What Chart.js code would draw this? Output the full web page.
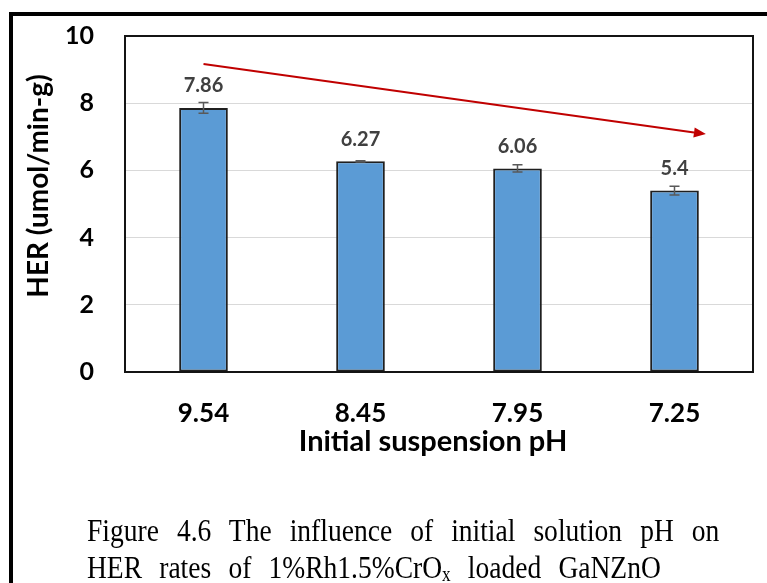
<!DOCTYPE html>
<html>
<head>
<meta charset="utf-8">
<script src="https://cdn.jsdelivr.net/npm/chart.js@4.4.1/dist/chart.umd.min.js"></script>
<style>
  html, body { margin: 0; padding: 0; background: #fff; }
  #page { position: relative; width: 767px; height: 583px; overflow: hidden; background: #fff; }
  #frame { position: absolute; left: 9px; top: 12px; width: 900px; height: 700px;
           border-left: 4px solid #000; border-top: 4px solid #000; }
  #her-chart { position: absolute; left: 0; top: 0; }
  .caption { position: absolute; left: 87px; font-family: "Liberation Serif", "Times New Roman", serif;
             font-size: 32px; color: #000; white-space: nowrap; line-height: 37px;
             transform: scaleX(0.86); transform-origin: 0 50%; word-spacing: 12px; }
  .caption sub { font-size: 20px; vertical-align: -3px; line-height: 0; }
</style>
</head>
<body>
<div id="page">
  <div id="frame"></div>
  <canvas id="her-chart" width="767" height="583"></canvas>
  <div class="caption" style="top: 512px; word-spacing: 13px;">Figure 4.6 The influence of initial solution pH on</div>
  <div class="caption" style="top: 549px;">HER rates of 1%Rh1.5%CrO<sub>x</sub> loaded GaNZnO</div>
</div>
<script>
// pH values on the x axis
const phLabels = ['9.54', '8.45', '7.95', '7.25'];
// HER rate (umol/min-g) and its error
const herRates = [7.86, 6.27, 6.06, 5.4];
const herErrors = [0.16, 0.02, 0.11, 0.13];
// Trend arrow, as [category index, value]
const trendStart = [0, 9.17];
const trendEnd = [3.2, 7.08];

const FONT = 'Lato, "Liberation Sans", sans-serif';

// Frame around the plot area
const plotBorder = {
    id: 'plotBorder',
    afterDraw(chart) {
        const { ctx, chartArea: a } = chart;
        ctx.save();
        ctx.strokeStyle = '#141414';
        ctx.lineWidth = 2;
        ctx.strokeRect(a.left, a.top, a.right - a.left, a.bottom - a.top);
        ctx.restore();
    }
};

// Error bars and value labels over each bar
const barExtras = {
    id: 'barExtras',
    afterDatasetsDraw(chart) {
        const { ctx } = chart;
        const y = chart.scales.y;
        const meta = chart.getDatasetMeta(0);
        ctx.save();
        meta.data.forEach((bar, i) => {
            const v = herRates[i];
            const e = herErrors[i];
            const yTop = y.getPixelForValue(v + e);
            const yBot = y.getPixelForValue(v - e);
            ctx.strokeStyle = '#595959';
            ctx.lineWidth = 1.5;
            ctx.beginPath();
            ctx.moveTo(bar.x, yTop); ctx.lineTo(bar.x, yBot);
            ctx.moveTo(bar.x - 5, yTop); ctx.lineTo(bar.x + 5, yTop);
            ctx.moveTo(bar.x - 5, yBot); ctx.lineTo(bar.x + 5, yBot);
            ctx.stroke();

            ctx.fillStyle = '#404040';
            ctx.font = 'bold 20px ' + FONT;
            ctx.textAlign = 'center';
            ctx.textBaseline = 'middle';
            ctx.fillText(String(v), bar.x, bar.y - 22);
        });
        ctx.restore();
    }
};

// Red trend arrow
const trendArrow = {
    id: 'trendArrow',
    afterDraw(chart) {
        const { ctx } = chart;
        const xs = chart.scales.x, ys = chart.scales.y;
        const x1 = xs.getPixelForValue(trendStart[0]), y1 = ys.getPixelForValue(trendStart[1]);
        const x2 = xs.getPixelForValue(trendEnd[0]), y2 = ys.getPixelForValue(trendEnd[1]);
        const ang = Math.atan2(y2 - y1, x2 - x1);
        const head = 12;
        const bx = x2 - head * Math.cos(ang), by = y2 - head * Math.sin(ang);
        ctx.save();
        ctx.strokeStyle = '#C00000';
        ctx.fillStyle = '#C00000';
        ctx.lineWidth = 2;
        ctx.beginPath();
        ctx.moveTo(x1, y1);
        ctx.lineTo(bx, by);
        ctx.stroke();
        ctx.beginPath();
        ctx.moveTo(x2, y2);
        ctx.lineTo(bx + 5 * Math.sin(ang), by - 5 * Math.cos(ang));
        ctx.lineTo(bx - 5 * Math.sin(ang), by + 5 * Math.cos(ang));
        ctx.closePath();
        ctx.fill();
        ctx.restore();
    }
};

// Axis titles
const axisTitles = {
    id: 'axisTitles',
    afterDraw(chart) {
        const { ctx } = chart;
        ctx.save();
        ctx.fillStyle = '#000';
        ctx.font = 'bold 29px ' + FONT;
        ctx.textAlign = 'center';
        ctx.textBaseline = 'middle';
        ctx.fillText('Initial suspension pH', 433, 442);
        ctx.font = 'bold 28px ' + FONT;
        ctx.translate(39, 186);
        ctx.rotate(-Math.PI / 2);
        ctx.fillText('HER (umol/min-g)', 0, 0);
        ctx.restore();
    }
};

new Chart(document.getElementById('her-chart'), {
    type: 'bar',
    data: {
        labels: phLabels,
        datasets: [{
            data: herRates,
            backgroundColor: '#5B9BD5',
            borderColor: '#1F1F1F',
            borderWidth: 2,
            borderSkipped: false,
            categoryPercentage: 1,
            barPercentage: 0.31
        }]
    },
    options: {
        responsive: false,
        animation: false,
        devicePixelRatio: 1,
        layout: { padding: { top: 36, right: 14, left: 0, bottom: 0 } },
        plugins: {
            legend: { display: false },
            tooltip: { enabled: false }
        },
        scales: {
            x: {
                grid: { display: false, drawTicks: false },
                border: { display: false },
                ticks: { color: '#000', font: { family: FONT, size: 26, weight: 'bold' }, padding: 26 },
                afterFit(s) { s.height = 211; }
            },
            y: {
                min: 0,
                max: 10,
                grid: { color: '#D9D9D9', lineWidth: 1, drawTicks: false },
                border: { display: false },
                ticks: { stepSize: 2, color: '#000', font: { family: FONT, size: 25, weight: 'bold' }, padding: 31 },
                afterFit(s) {
                    s.width = 125;
                    // tick padding would otherwise push the plot top down
                    s.paddingTop = 0;
                    s.paddingBottom = 0;
                }
            }
        }
    },
    plugins: [plotBorder, barExtras, trendArrow, axisTitles]
});
</script>
</body>
</html>
